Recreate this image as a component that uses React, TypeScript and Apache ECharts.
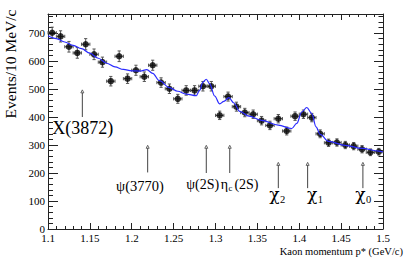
import React, { useEffect, useRef } from 'react';
import * as echarts from 'echarts';

// ---- Data ----
const binCenters = [
  1.105, 1.115, 1.125, 1.135, 1.145, 1.155, 1.165, 1.175, 1.185, 1.195,
  1.205, 1.215, 1.225, 1.235, 1.245, 1.255, 1.265, 1.275, 1.285, 1.295,
  1.305, 1.315, 1.325, 1.335, 1.345, 1.355, 1.365, 1.375, 1.385, 1.395,
  1.405, 1.415, 1.425, 1.435, 1.445, 1.455, 1.465, 1.475, 1.485, 1.495,
];
const eventCounts = [
  701, 688, 651, 629, 660, 624, 596, 528, 617, 537,
  567, 544, 585, 523, 501, 465, 495, 495, 510, 510,
  406, 473, 437, 416, 410, 387, 370, 394, 350, 403,
  410, 398, 340, 308, 309, 300, 296, 285, 274, 276,
];
const countErrors = [
  20, 20, 19, 19, 20, 19, 18, 17, 19, 17,
  18, 17, 18, 17, 17, 16, 17, 17, 17, 17,
  15, 16, 16, 15, 15, 15, 15, 15, 14, 15,
  15, 15, 14, 13, 13, 13, 13, 13, 12, 12,
];
const binHalfWidth = 0.005;

const fitMomentum = [
  1.100, 1.110, 1.120, 1.130, 1.140, 1.150, 1.160, 1.170, 1.180, 1.190,
  1.200, 1.210, 1.218, 1.225, 1.233, 1.245, 1.255, 1.265, 1.277, 1.281,
  1.285, 1.289, 1.293, 1.299, 1.305, 1.310, 1.316, 1.322, 1.329, 1.340,
  1.355, 1.375, 1.391, 1.397, 1.403, 1.409, 1.415, 1.420, 1.425, 1.435,
  1.455, 1.475, 1.495, 1.500,
];
const fitEvents = [
  690, 680, 668, 656, 644, 628, 610, 592, 579, 570,
  565, 564, 569, 556, 530, 505, 492, 482, 476, 495,
  525, 535, 519, 475, 447, 456, 469, 450, 420, 403,
  388, 371, 359, 377, 418, 434, 412, 365, 338, 313,
  299, 288, 278, 275,
];

const annotationNames = ['X(3872)', 'ψ(3770)', 'ψ(2S)', 'η_c(2S)', 'χ_2', 'χ_1', 'χ_0'];
const annotationMomentum = [1.141, 1.219, 1.289, 1.317, 1.375, 1.41, 1.476];
const arrowTopEvents = [497, 299, 299, 299, 238, 238, 238];
const arrowBottomEvents = [400, 202, 200, 200, 146, 146, 146];

const xAxisMin = 1.1;
const xAxisMax = 1.5;
const xAxisStep = 0.05;
const yAxisMin = 0;
const yAxisMax = 768;
const yAxisStep = 100;

const xTitle = 'Kaon momentum p* (GeV/c)';
const yTitle = 'Events/10 MeV/c';

// ---- Layout / style (pixels) ----
const FONT = '"Liberation Serif", "Times New Roman", serif';
const GREEK_FONT = '"DejaVu Serif", "Liberation Serif", serif';
const labelLayout = [
  { dx: -30, dy: 17, size: 18, gapBefore: 0, gapAfter: 0, font: FONT },
  { dx: -31.6, dy: 18, size: 14.5, gapBefore: 0, gapAfter: 0, font: FONT },
  { dx: -20, dy: 16, size: 14, gapBefore: 0, gapAfter: 0, font: FONT },
  { dx: -9, dy: 16, size: 14, gapBefore: 0.5, gapAfter: 2, font: FONT },
  { dx: -9, dy: 12, size: 17, gapBefore: 0.5, gapAfter: 0, font: GREEK_FONT },
  { dx: -0.6, dy: 12, size: 17, gapBefore: 0.5, gapAfter: 0, font: GREEK_FONT },
  { dx: -7.7, dy: 12, size: 17, gapBefore: 0.5, gapAfter: 0, font: GREEK_FONT },
];

let measureCtx: CanvasRenderingContext2D | null = null;
function measure(text: string, size: number, font: string): number {
  if (!measureCtx) {
    measureCtx = document.createElement('canvas').getContext('2d');
  }
  if (!measureCtx) return text.length * size * 0.5;
  measureCtx.font = `${size}px ${font}`;
  return measureCtx.measureText(text).width;
}

function parseLabel(label: string) {
  const segs: { t: string; sub: boolean }[] = [];
  const idx = label.indexOf('_');
  if (idx < 0) return [{ t: label, sub: false }];
  segs.push({ t: label.slice(0, idx), sub: false });
  segs.push({ t: label.charAt(idx + 1), sub: true });
  const rest = label.slice(idx + 2);
  if (rest) segs.push({ t: rest, sub: false });
  return segs;
}

export default function App() {
  const ref = useRef<HTMLDivElement>(null);

  useEffect(() => {
    if (!ref.current) return;
    const chart = echarts.init(ref.current, null, { renderer: 'svg' });

    const points = binCenters.map((x, i) => [x, eventCounts[i]]);
    const errData = binCenters.map((x, i) => [x, eventCounts[i], countErrors[i]]);
    const fitData = fitMomentum.map((x, i) => [x, fitEvents[i]]);
    const annData = annotationMomentum.map((x, i) => [x, arrowTopEvents[i], arrowBottomEvents[i]]);

    const tickColor = '#222';
    const baseX = {
      type: 'value',
      min: xAxisMin,
      max: xAxisMax,
      interval: xAxisStep,
      axisLine: { show: true, onZero: false, lineStyle: { color: tickColor, width: 1 } },
      axisTick: { show: true, inside: true, length: 6, lineStyle: { color: tickColor } },
      minorTick: { show: true, splitNumber: 5, length: 3, lineStyle: { color: tickColor } },
      splitLine: { show: false },
      minorSplitLine: { show: false },
    };
    const baseY = {
      type: 'value',
      min: yAxisMin,
      max: yAxisMax,
      splitLine: { show: false },
      minorSplitLine: { show: false },
    };

    chart.setOption({
      animation: false,
      grid: { left: 48, right: 24, top: 14, bottom: 45, containLabel: false },
      xAxis: [
        {
          ...baseX,
          position: 'bottom',
          axisLabel: {
            show: true,
            fontSize: 11,
            fontFamily: FONT,
            color: '#000',
            margin: 3,
          },
        },
        { ...baseX, position: 'top', axisLabel: { show: false } },
      ],
      yAxis: [
        {
          ...baseY,
          position: 'left',
          interval: yAxisStep,
          axisLine: { show: true, onZero: false, lineStyle: { color: tickColor, width: 1 } },
          axisTick: { show: true, inside: true, length: 10, lineStyle: { color: tickColor } },
          axisLabel: {
            show: true,
            fontSize: 11,
            fontFamily: FONT,
            color: '#000',
            margin: 3,
            showMaxLabel: false,
          },
        },
        {
          ...baseY,
          position: 'left',
          interval: yAxisStep / 5,
          axisLine: { show: false },
          axisTick: { show: true, inside: true, length: 5, lineStyle: { color: tickColor } },
          axisLabel: { show: false },
        },
        {
          ...baseY,
          position: 'right',
          interval: yAxisStep,
          axisLine: { show: true, onZero: false, lineStyle: { color: tickColor, width: 1 } },
          axisTick: { show: true, inside: true, length: 9, lineStyle: { color: tickColor } },
          axisLabel: { show: false },
        },
        {
          ...baseY,
          position: 'right',
          interval: yAxisStep / 5,
          axisLine: { show: false },
          axisTick: { show: true, inside: true, length: 4.5, lineStyle: { color: tickColor } },
          axisLabel: { show: false },
        },
      ],
      graphic: [
        {
          type: 'text',
          x: 10.5,
          y: 64,
          rotation: Math.PI / 2,
          style: {
            text: yTitle,
            fontSize: 15.5,
            fontFamily: FONT,
            fill: '#000',
            align: 'center',
            verticalAlign: 'middle',
          },
        },
        {
          type: 'text',
          x: 403,
          y: 251,
          style: {
            text: xTitle,
            fontSize: 10.5,
            fontFamily: FONT,
            fill: '#000',
            align: 'right',
            verticalAlign: 'middle',
          },
        },
      ],
      series: [
        {
          type: 'custom',
          name: 'errors',
          xAxisIndex: 0,
          yAxisIndex: 0,
          data: errData,
          encode: { x: 0, y: 1 },
          z: 2,
          renderItem: (params: any, api: any) => {
            const x = api.value(0);
            const y = api.value(1);
            const e = api.value(2);
            const c = api.coord([x, y]);
            const hi = api.coord([x, y + e]);
            const lo = api.coord([x, y - e]);
            const l = api.coord([x - binHalfWidth, y]);
            const r = api.coord([x + binHalfWidth, y]);
            const st = { stroke: '#555', lineWidth: 1 };
            const cap = 1.6;
            return {
              type: 'group',
              children: [
                { type: 'line', shape: { x1: c[0], y1: hi[1], x2: c[0], y2: lo[1] }, style: st },
                { type: 'line', shape: { x1: l[0], y1: c[1], x2: r[0], y2: c[1] }, style: st },
                { type: 'line', shape: { x1: c[0] - cap, y1: hi[1], x2: c[0] + cap, y2: hi[1] }, style: st },
                { type: 'line', shape: { x1: c[0] - cap, y1: lo[1], x2: c[0] + cap, y2: lo[1] }, style: st },
                { type: 'line', shape: { x1: l[0], y1: c[1] - cap, x2: l[0], y2: c[1] + cap }, style: st },
                { type: 'line', shape: { x1: r[0], y1: c[1] - cap, x2: r[0], y2: c[1] + cap }, style: st },
              ],
            };
          },
        },
        {
          type: 'scatter',
          name: 'data',
          xAxisIndex: 0,
          yAxisIndex: 0,
          data: points,
          symbol: 'circle',
          symbolSize: 6.5,
          itemStyle: { color: '#000' },
          z: 3,
        },
        {
          type: 'line',
          name: 'fit',
          xAxisIndex: 0,
          yAxisIndex: 0,
          data: fitData,
          showSymbol: false,
          smooth: 0.35,
          smoothMonotone: 'x',
          lineStyle: { color: '#2a2aff', width: 1.2 },
          z: 4,
        },
        {
          type: 'custom',
          name: 'annotations',
          xAxisIndex: 0,
          yAxisIndex: 0,
          data: annData,
          encode: { x: 0, y: [1, 2] },
          clip: false,
          z: 5,
          renderItem: (params: any, api: any) => {
            const i = params.dataIndex;
            const x = api.value(0);
            const top = api.coord([x, api.value(1)]);
            const bot = api.coord([x, api.value(2)]);
            const lay = labelLayout[i];
            const children: any[] = [
              {
                type: 'line',
                shape: { x1: top[0], y1: top[1] + 2.5, x2: bot[0], y2: bot[1] },
                style: { stroke: '#444', lineWidth: 1 },
              },
              {
                type: 'polygon',
                shape: {
                  points: [
                    [top[0], top[1]],
                    [top[0] - 1.5, top[1] + 3],
                    [top[0] + 1.5, top[1] + 3],
                  ],
                },
                style: { stroke: '#444', fill: '#fff', lineWidth: 0.8 },
              },
            ];
            const segs = parseLabel(annotationNames[i]);
            let cx = top[0] + lay.dx;
            const baseline = bot[1] + lay.dy;
            segs.forEach((s) => {
              const size = s.sub ? lay.size * 0.62 : lay.size;
              const font = s.sub ? FONT : lay.font;
              if (s.sub) cx += lay.gapBefore;
              const bl = s.sub ? baseline + lay.size * 0.17 : baseline;
              children.push({
                type: 'text',
                x: cx,
                y: bl - size * 0.34,
                style: {
                  text: s.t,
                  fontSize: size,
                  fontFamily: font,
                  fill: '#000',
                  align: 'left',
                  verticalAlign: 'middle',
                },
              });
              cx += measure(s.t, size, font);
              if (s.sub) cx += lay.gapAfter;
            });
            return { type: 'group', children };
          },
        },
      ],
    });

    return () => chart.dispose();
  }, []);

  return (
    <div
      ref={ref}
      style={{ position: 'fixed', left: 0, top: 0, width: 407, height: 274, background: '#fff' }}
    />
  );
}
